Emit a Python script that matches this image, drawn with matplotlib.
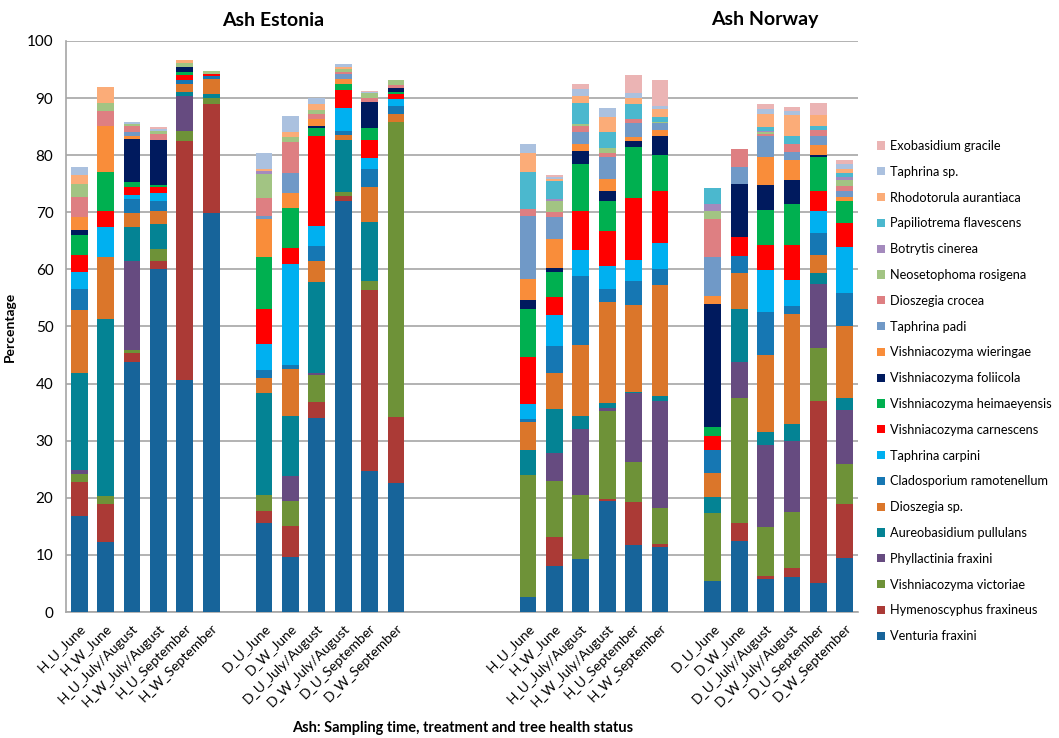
import matplotlib
matplotlib.use('Agg')
import matplotlib.pyplot as plt
from matplotlib.patches import Patch
import numpy as np

plt.rcParams['font.family'] = ['Lato', 'DejaVu Sans']

# sample labels (Estonia H, Estonia D, Norway H, Norway D)
samples = ['H_U_June', 'H_W_June', 'H_U_July/August', 'H_W_July/August', 'H_U_September', 'H_W_September',
           'D_U_June', 'D_W_June', 'D_U_July/August', 'D_W_July/August', 'D_U_September', 'D_W_September',
           'H_U_June', 'H_W_June', 'H_U_July/August', 'H_W_July/August', 'H_U_September', 'H_W_September',
           'D_U_June', 'D_W_June', 'D_U_July/August', 'D_W_July/August', 'D_U_September', 'D_W_September']
# category slot of each bar (blank categories separate the groups)
slots = [0, 1, 2, 3, 4, 5, 7, 8, 9, 10, 11, 12, 17, 18, 19, 20, 21, 22, 24, 25, 26, 27, 28, 29]

# relative abundance (%) per species, one value per sample
venturia_fraxini = [16.9, 12.2, 43.8, 60.1, 40.7, 69.8, 15.6, 9.7, 33.9, 71.9, 24.7, 22.6,
                    2.7, 8.1, 9.3, 19.5, 11.8, 11.4, 5.4, 12.4, 5.7, 6.2, 5.1, 9.4]
hymenoscyphus_fraxineus = [5.9, 6.7, 1.6, 1.3, 41.8, 19.2, 2.1, 5.3, 2.9, 0.9, 31.7, 11.6,
                           0, 5.0, 0, 0.25, 7.4, 0.5, 0, 3.2, 0.6, 1.5, 31.8, 9.6]
vishniacozyma_victoriae = [1.4, 1.4, 0.5, 2.2, 1.8, 1.1, 2.8, 4.4, 4.7, 0.8, 1.6, 51.7,
                           21.3, 9.8, 11.2, 15.5, 7.0, 6.4, 12.0, 21.8, 8.6, 9.8, 9.3, 7.0]
phyllactinia_fraxini = [0.7, 0, 15.6, 0, 6.0, 0, 0, 4.4, 0.4, 0, 0, 0,
                        0, 5.0, 11.6, 0.4, 12.2, 18.6, 0, 6.3, 14.4, 12.5, 11.2, 9.4]
aureobasidium_pullulans = [17.0, 31.1, 6.0, 4.4, 0.8, 0.6, 17.8, 10.6, 15.9, 9.0, 10.3, 0,
                           4.4, 7.7, 2.2, 1.0, 0.2, 1.0, 2.8, 9.3, 2.3, 3.0, 1.9, 2.1]
dioszegia_sp = [11.0, 10.7, 2.4, 2.2, 1.3, 2.6, 2.7, 8.1, 3.6, 1.0, 6.2, 1.3,
                4.9, 6.3, 12.4, 17.6, 15.1, 19.4, 4.1, 6.3, 13.4, 19.2, 3.2, 12.5]
cladosporium_ramotenellum = [3.7, 0, 2.4, 1.8, 0.8, 0.5, 1.3, 0.7, 2.7, 0.7, 3.1, 1.35,
                             0.5, 4.7, 12.1, 2.3, 4.3, 2.8, 4.1, 3.1, 7.6, 1.4, 3.9, 5.8]
taphrina_carpini = [2.9, 5.4, 0.7, 1.4, 0, 0, 4.7, 17.8, 3.5, 3.9, 1.9, 1.35,
                    2.7, 5.5, 4.6, 4.1, 3.7, 4.6, 0, 0, 7.3, 4.5, 3.9, 8.2]
vishniacozyma_carnescens = [3.0, 2.7, 1.4, 1.1, 0.8, 0.5, 6.0, 2.7, 15.7, 3.2, 3.1, 0.9,
                            8.2, 3.0, 6.8, 6.0, 10.8, 9.0, 2.5, 3.2, 4.3, 6.1, 3.5, 4.1]
vishniacozyma_heimaeyensis = [3.6, 6.8, 0.9, 0.2, 0.5, 0, 9.2, 7.1, 1.5, 1.0, 2.1, 0.2,
                              8.3, 4.4, 8.2, 5.4, 9.0, 6.3, 1.5, 0, 6.2, 7.3, 5.8, 3.9]
vishniacozyma_foliicola = [0.8, 0, 7.5, 8.0, 1.0, 0, 0, 0, 0.3, 0, 4.6, 0.8,
                           1.6, 0.8, 2.4, 1.7, 1.0, 3.4, 21.6, 9.3, 4.4, 4.1, 0.4, 0]
vishniacozyma_wieringae = [2.2, 8.1, 0.6, 0, 0, 0, 6.7, 2.5, 1.3, 1.0, 0, 0,
                           3.8, 5.0, 1.1, 2.1, 0.6, 1.0, 1.4, 0, 4.8, 3.5, 1.7, 0.7]
taphrina_padi = [0, 0, 0.7, 0, 0, 0, 0.5, 3.6, 0, 0.8, 0, 0,
                 11.0, 3.9, 2.1, 3.9, 2.6, 1.2, 6.7, 3.1, 3.7, 1.4, 1.6, 1.0]
dioszegia_crocea = [3.6, 2.7, 1.0, 1.1, 0, 0, 3.1, 5.4, 0.9, 0.4, 0.7, 0.5,
                    1.1, 0.8, 1.2, 0.7, 0.6, 0, 6.7, 3.1, 0.4, 1.4, 1.2, 0.9]
neosetophoma_rosigena = [2.3, 1.4, 0.4, 0.4, 0.7, 0.5, 4.2, 0.9, 0.6, 0.5, 0.9, 0.8,
                         0, 2.0, 0.2, 0.8, 0, 0.2, 1.4, 0, 0.3, 0, 0, 1.0]
botrytis_cinerea = [0, 0, 0, 0, 0, 0, 0.6, 0, 0, 0, 0, 0,
                    0, 0.3, 0, 0, 0, 0, 1.3, 0, 0.2, 0, 0, 0.6]
papiliotrema_flavescens = [0, 0, 0, 0, 0, 0, 0, 0, 0, 0, 0, 0,
                           6.5, 3.2, 3.8, 2.9, 2.6, 0.9, 2.7, 0, 0.7, 1.5, 0.6, 0.7]
rhodotorula_aurantiaca = [1.5, 2.7, 0, 0, 0.5, 0, 0.2, 0.9, 1.15, 0.4, 0, 0,
                          3.3, 0.4, 1.15, 2.5, 1.2, 1.4, 0, 0, 2.3, 3.6, 1.9, 0.6]
taphrina_sp = [1.5, 0, 0.3, 0.4, 0, 0, 2.9, 2.7, 1.0, 0.55, 0.2, 0,
               1.6, 0.3, 1.25, 1.6, 0.8, 0.5, 0, 0, 0.9, 0.8, 0, 0.9]
exobasidium_gracile = [0, 0, 0, 0.3, 0, 0, 0, 0, 0, 0, 0.2, 0,
                       0, 0.4, 0.8, 0, 3.2, 4.5, 0, 0, 0.8, 0.6, 2.2, 0.7]

# stacking order, bottom to top
species = [
    ('Venturia fraxini', venturia_fraxini, '#17649A'),
    ('Hymenoscyphus fraxineus', hymenoscyphus_fraxineus, '#AB3A36'),
    ('Vishniacozyma victoriae', vishniacozyma_victoriae, '#6E9238'),
    ('Phyllactinia fraxini', phyllactinia_fraxini, '#664B80'),
    ('Aureobasidium pullulans', aureobasidium_pullulans, '#048394'),
    ('Dioszegia sp.', dioszegia_sp, '#DB762A'),
    ('Cladosporium ramotenellum', cladosporium_ramotenellum, '#1677B3'),
    ('Taphrina carpini', taphrina_carpini, '#00B0F0'),
    ('Vishniacozyma carnescens', vishniacozyma_carnescens, '#FF0000'),
    ('Vishniacozyma heimaeyensis', vishniacozyma_heimaeyensis, '#00B050'),
    ('Vishniacozyma foliicola', vishniacozyma_foliicola, '#001A5E'),
    ('Vishniacozyma wieringae', vishniacozyma_wieringae, '#F98D3A'),
    ('Taphrina padi', taphrina_padi, '#7099C7'),
    ('Dioszegia crocea', dioszegia_crocea, '#DE7F82'),
    ('Neosetophoma rosigena', neosetophoma_rosigena, '#A2C483'),
    ('Botrytis cinerea', botrytis_cinerea, '#A48ABD'),
    ('Papiliotrema flavescens', papiliotrema_flavescens, '#4BB8CE'),
    ('Rhodotorula aurantiaca', rhodotorula_aurantiaca, '#FBAC78'),
    ('Taphrina sp.', taphrina_sp, '#ABC1DF'),
    ('Exobasidium gracile', exobasidium_gracile, '#EBB4B4'),
]

W, H = 1059, 738
fig = plt.figure(figsize=(W / 100, H / 100), dpi=100)
ax = fig.add_axes([66 / W, (H - 612) / H, 792 / W, (612 - 41) / H])

x = np.array(slots)
bottom = np.zeros(len(samples))
for name, vals, color in species:
    vals = np.array(vals, dtype=float)
    ax.bar(x, vals, width=0.63, bottom=bottom, color=color, edgecolor='none', zorder=3)
    bottom += vals

ax.set_xlim(-0.5, 29.5)
ax.set_ylim(0, 100)
ax.set_yticks(np.arange(0, 101, 10))
ax.tick_params(axis='y', length=0, pad=9, labelsize=11)
ax.set_xticks(x)
ax.set_xticklabels(samples, rotation=45, ha='right', va='top', rotation_mode='anchor', fontsize=10)
ax.tick_params(axis='x', length=0, pad=7)
ax.grid(axis='y', color='#A6A6A6', linewidth=1.2, zorder=0)
for side in ['top', 'right']:
    ax.spines[side].set_visible(False)
for side in ['left', 'bottom']:
    ax.spines[side].set_color('#A6A6A6')
    ax.spines[side].set_linewidth(1.2)

ax.set_ylabel('Percentage', fontsize=10, fontweight='bold', labelpad=8)
fig.text(273 / W, 1 - 20 / H, 'Ash Estonia', ha='center', va='center', fontsize=14, fontweight='bold')
fig.text(765 / W, 1 - 20 / H, 'Ash Norway', ha='center', va='center', fontsize=14, fontweight='bold')
fig.text(463 / W, 1 - 728 / H, 'Ash: Sampling time, treatment and tree health status',
         ha='center', va='center', fontsize=10.5, fontweight='bold')

# legend listed top-down in reverse stacking order
handles = [Patch(facecolor=c, edgecolor='none', label=n) for n, v, c in species[::-1]]
fig.legend(handles=handles, loc='upper left', bbox_to_anchor=(877 / W, 1 - 140 / H),
           frameon=False, fontsize=9.2, handlelength=0.6, handleheight=0.6,
           handletextpad=0.4, labelspacing=1.08, borderpad=0, borderaxespad=0)

fig.savefig('out.png', dpi=100)
